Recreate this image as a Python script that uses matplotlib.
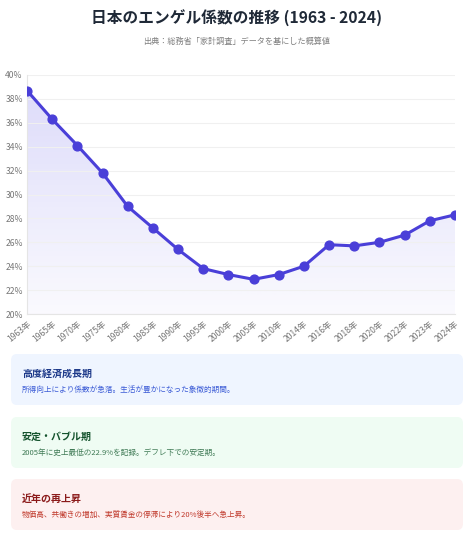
import numpy as np
import matplotlib.pyplot as plt
from matplotlib.patches import FancyBboxPatch
from matplotlib.ticker import FuncFormatter

plt.rcParams['font.family'] = ['Noto Sans CJK JP', 'DejaVu Sans']

# data
years = ['1963年', '1965年', '1970年', '1975年', '1980年', '1985年', '1990年', '1995年', '2000年',
         '2005年', '2010年', '2014年', '2016年', '2018年', '2020年', '2022年', '2023年', '2024年']
engel = [38.7, 36.3, 34.1, 31.8, 29.0, 27.2, 25.4, 23.8, 23.3,
         22.9, 23.3, 24.0, 25.8, 25.7, 26.0, 26.6, 27.8, 28.3]

title = '日本のエンゲル係数の推移 (1963 - 2024)'
subtitle = '出典：総務省「家計調査」データを基にした概算値'

notes = [
    ('高度経済成長期', '所得向上により係数が急落。生活が豊かになった象徴的期間。'),
    ('安定・バブル期', '2005年に史上最低の22.9%を記録。デフレ下での安定期。'),
    ('近年の再上昇', '物価高、共働きの増加、実質賃金の停滞により20%後半へ急上昇。'),
]
note_styles = [
    ('#eff5ff', '#1e3a8a', '#3b5bd6'),
    ('#effcf3', '#14532d', '#3f7a55'),
    ('#fdf0f0', '#8b1a1a', '#c0392b'),
]

W, H = 474, 539
fig = plt.figure(figsize=(W / 100, H / 100), dpi=100)
fig.patch.set_facecolor('white')

fig.text(0.5, 1 - 18 / H, title, ha='center', va='center', fontsize=11.3,
         fontweight='bold', color='#1f2937')
fig.text(0.5, 1 - 41 / H, subtitle, ha='center', va='center', fontsize=5.9, color='#808080')

ax = fig.add_axes([27 / W, 1 - 314 / H, 428 / W, 239 / H])
x = np.arange(len(years))
line_c = '#4a3fd8'

ax.set_ylim(20, 40)
ax.set_xlim(0, len(years) - 1)

# gradient fill under the line
grad = np.zeros((100, 1, 4))
grad[..., 0] = 79 / 255
grad[..., 1] = 70 / 255
grad[..., 2] = 229 / 255
grad[:, 0, 3] = np.linspace(0.03, 0.2, 100)
img = ax.imshow(grad, aspect='auto', extent=[0, len(years) - 1, 20, 40], origin='lower', zorder=1)
poly = ax.fill_between(x, engel, 20, color='none')
img.set_clip_path(poly.get_paths()[0], transform=ax.transData)

ax.plot(x, engel, color=line_c, lw=2.2, zorder=3)
ax.scatter(x, engel, s=40, color=line_c, zorder=4)

ax.set_yticks(np.arange(20, 41, 2))
ax.yaxis.set_major_formatter(FuncFormatter(lambda v, p: f'{v:.0f}%'))
ax.grid(axis='y', color='#f0f0f0', lw=0.8, zorder=0)
ax.set_xticks(x)
ax.set_xticklabels(years, rotation=40, ha='right', rotation_mode='anchor')
ax.tick_params(axis='both', length=0, labelsize=6.2, labelcolor='#777777')
ax.tick_params(axis='y', pad=3)
ax.tick_params(axis='x', pad=4)
for s in ['top', 'right']:
    ax.spines[s].set_visible(False)
for s in ['left', 'bottom']:
    ax.spines[s].set_color('#e5e5e5')
    ax.spines[s].set_linewidth(0.8)

# note boxes
box_tops = [354, 417, 479]
box_h = 51
for (head, body), (bg, hc, bc), top in zip(notes, note_styles, box_tops):
    bx = FancyBboxPatch((11 / W, 1 - (top + box_h) / H), 452 / W, box_h / H,
                        boxstyle='round,pad=0,rounding_size=0.012',
                        transform=fig.transFigure, facecolor=bg, edgecolor='none')
    fig.add_artist(bx)
    fig.text(22 / W, 1 - (top + 20) / H, head, ha='left', va='center', fontsize=7.2,
             fontweight='bold', color=hc)
    fig.text(22 / W, 1 - (top + 36) / H, body, ha='left', va='center', fontsize=5.5, color=bc)

fig.savefig('out.png', dpi=100)
